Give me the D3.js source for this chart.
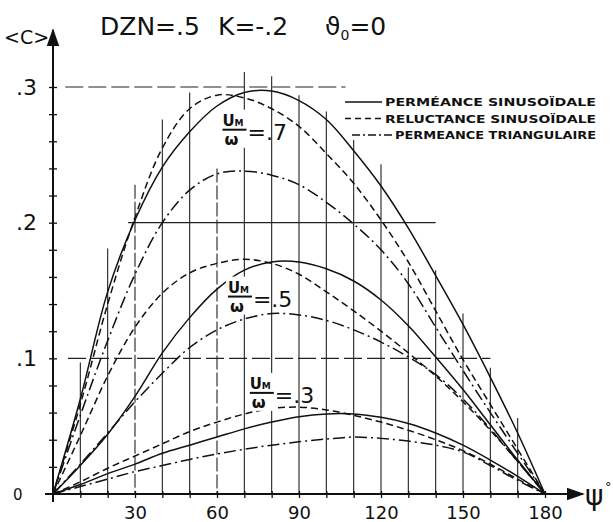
<!DOCTYPE html>
<html><head><meta charset="utf-8">
<script src="https://cdn.jsdelivr.net/npm/d3@7"></script>
<style>
html,body{margin:0;padding:0;background:#fff;}
svg{display:block;}
text{font-family:"DejaVu Sans",sans-serif;fill:#111;}
</style></head>
<body>
<svg id="chart" width="613" height="522"></svg>
<script>
// ---- data ----
const psi = [0,10,20,30,40,50,60,70,80,90,100,110,120,130,140,150,160,170,180];
const permSin07 = [0,0.070,0.149,0.202,0.241,0.267,0.286,0.296,0.297,0.290,0.276,0.253,0.227,0.196,0.161,0.125,0.086,0.045,0];
const relSin07  = [0,0.066,0.140,0.204,0.255,0.284,0.294,0.292,0.284,0.271,0.251,0.229,0.202,0.171,0.135,0.099,0.066,0.033,0];
const permTri07 = [0,0.058,0.113,0.162,0.200,0.224,0.236,0.238,0.235,0.228,0.215,0.199,0.180,0.155,0.123,0.091,0.060,0.030,0];
const permSin05 = [0,0.021,0.044,0.072,0.104,0.130,0.151,0.165,0.171,0.171,0.166,0.157,0.143,0.124,0.101,0.077,0.051,0.025,0];
const relSin05  = [0,0.043,0.087,0.123,0.148,0.163,0.170,0.173,0.170,0.162,0.149,0.135,0.120,0.104,0.087,0.068,0.047,0.024,0];
const permTri05 = [0,0.022,0.045,0.068,0.089,0.108,0.121,0.129,0.133,0.132,0.128,0.121,0.112,0.101,0.088,0.070,0.048,0.024,0];
const permSin03 = [0,0.007,0.015,0.022,0.030,0.036,0.042,0.048,0.053,0.057,0.059,0.059,0.0565,0.052,0.045,0.036,0.025,0.013,0];
const relSin03  = [0,0.009,0.019,0.028,0.037,0.046,0.053,0.059,0.063,0.064,0.062,0.058,0.053,0.047,0.040,0.032,0.022,0.011,0];
const permTri03 = [0,0.0055,0.011,0.0165,0.021,0.0255,0.0295,0.033,0.036,0.0385,0.0405,0.042,0.041,0.039,0.036,0.031,0.021,0.010,0];

const xTickLabels = [30,60,90,120,150,180];
const xMinor = [10,20,30,40,50,60,70,80,90,100,110,120,130,140,150,160,170,180];
const yTickLabels = [0.1,0.2,0.3];
const yMinor = [0.02,0.04,0.06,0.08,0.1,0.12,0.14,0.16,0.18,0.2,0.22,0.24,0.26,0.28,0.3];
// vertical hand-drawn grid lines: angle and top value
const vGridPsi = [10,20,30,40,50,60,70,80,90,100,110,120,130,140,150,160,170];
const vGridTop = [0.097,0.181,0.228,0.276,0.296,0.240,0.311,0.308,0.294,0.282,0.261,0.243,0.167,0.165,0.133,0.093,0.056];
// horizontal grid lines: value, start angle, end angle
const hGridVal = [0.1,0.2,0.3];
const hGridFrom = [5.5,27.5,4.5];
const hGridTo = [160,140,107];

const legendLabels = ["PERMÉANCE SINUSOÏDALE","RELUCTANCE SINUSOÏDALE","PERMEANCE TRIANGULAIRE"];
const styles = ["none","7,4","12,4,2,4"];

const series = [
  {v:permSin07, s:0},{v:relSin07, s:1},{v:permTri07, s:2},
  {v:permSin05, s:0},{v:relSin05, s:1},{v:permTri05, s:2},
  {v:permSin03, s:0},{v:relSin03, s:1},{v:permTri03, s:2}
];
const ratioLabels = [{r:".7", at:[62,0.27]},{r:".5", at:[64,0.147]},{r:".3", at:[72,0.076]}];

// ---- drawing ----
const svg = d3.select("#chart");
const x = d3.scaleLinear().domain([0,180]).range([53,545]);
const y = d3.scaleLinear().domain([0,0.3]).range([494,87]);

// vertical grid
svg.append("g").selectAll("line").data(vGridPsi).join("line")
  .attr("x1",d=>x(d)).attr("x2",d=>x(d))
  .attr("y1",(d,i)=>y(vGridTop[i])).attr("y2",y(0))
  .attr("stroke","#222").attr("stroke-width",1.1)
  .attr("stroke-dasharray",d=>(d===30||d===60)?"14,3":null);

// horizontal grid
svg.append("g").selectAll("line").data(hGridVal).join("line")
  .attr("x1",(d,i)=>x(hGridFrom[i])).attr("x2",(d,i)=>x(hGridTo[i]))
  .attr("y1",d=>y(d)).attr("y2",d=>y(d))
  .attr("stroke","#222").attr("stroke-width",1.1)
  .attr("stroke-dasharray",d=>d===0.2?null:"18,5");

// curves
const line = d3.line().x((d,i)=>x(psi[i])).y(d=>y(d)).curve(d3.curveCatmullRom.alpha(0.5));
svg.append("g").selectAll("path").data(series).join("path")
  .attr("d",d=>line(d.v)).attr("fill","none").attr("stroke","#111")
  .attr("stroke-width",1.5)
  .attr("stroke-dasharray",d=>styles[d.s]==="none"?null:styles[d.s]);

// x axis
const xAxis = d3.axisBottom(x).tickValues(xMinor)
  .tickFormat(d=>xTickLabels.includes(d)?String(d):"").tickSize(4).tickPadding(8);
const gx = svg.append("g").attr("transform",`translate(0,${y(0)})`).call(xAxis);
gx.select(".domain").remove();
gx.selectAll(".tick line").attr("y1",-3).attr("stroke","#111").attr("stroke-width",1.3);
gx.selectAll(".tick text").attr("font-size",18).attr("font-family","DejaVu Sans").attr("fill","#111");

// y axis
const yAxis = d3.axisLeft(y).tickValues(yMinor)
  .tickFormat(d=>{const k=yTickLabels.find(t=>Math.abs(t-d)<1e-9);return k?"."+Math.round(k*10):"";})
  .tickSize(4).tickPadding(12);
const gy = svg.append("g").attr("transform",`translate(${x(0)},0)`).call(yAxis);
gy.select(".domain").remove();
gy.selectAll(".tick line").attr("x1",4).attr("stroke","#111").attr("stroke-width",1.3);
gy.selectAll(".tick text").attr("font-size",22).attr("font-family","DejaVu Sans").attr("fill","#111");

// axis lines with arrows
svg.append("defs").append("marker").attr("id","arr").attr("viewBox","0 0 10 10")
  .attr("refX",9).attr("refY",5).attr("markerWidth",9).attr("markerHeight",9)
  .attr("orient","auto").append("path").attr("d","M0,1.5 L10,5 L0,8.5 Z").attr("fill","#111");
svg.append("line").attr("x1",x(0)-8).attr("x2",x(180)+38).attr("y1",y(0)).attr("y2",y(0))
  .attr("stroke","#111").attr("stroke-width",2).attr("marker-end","url(#arr)");
svg.append("line").attr("x1",x(0)).attr("x2",x(0)).attr("y1",y(0)+8).attr("y2",y(0.342))
  .attr("stroke","#111").attr("stroke-width",2).attr("marker-end","url(#arr)");

svg.append("text").attr("x",x(0)-40).attr("y",y(0)+6).attr("font-size",15).text("0");
svg.append("text").attr("x",4).attr("y",44).attr("font-size",19).text("<C>");
svg.append("text").attr("x",585).attr("y",505).attr("font-size",28).text("ψ");
svg.append("text").attr("x",605).attr("y",491).attr("font-size",13).text("°");

// title
svg.append("text").attr("x",100).attr("y",35).attr("font-size",25).text("DZN=.5");
svg.append("text").attr("x",218).attr("y",35).attr("font-size",25).text("K=-.2");
const th = svg.append("text").attr("x",325).attr("y",35).attr("font-size",25);
th.append("tspan").text("ϑ");
th.append("tspan").attr("font-size",14).attr("dy",5).text("0");
th.append("tspan").attr("dy",-5).text("=0");

// legend
const lg = svg.append("g");
legendLabels.forEach((t,i)=>{
  const ly = 102 + i*16.5;
  const lx0 = i===2?352:345, lx1 = i===2?392:382;
  lg.append("line").attr("x1",lx0).attr("x2",lx1).attr("y1",ly).attr("y2",ly)
    .attr("stroke","#111").attr("stroke-width",1.5)
    .attr("stroke-dasharray",styles[i]==="none"?null:(i===1?"6,4":"8,3,2,3"));
  lg.append("text").attr("x",lx1+3).attr("y",ly+4).attr("font-size",11).attr("font-weight","bold")
    .attr("textLength",596-(lx1+3)).attr("lengthAdjust","spacingAndGlyphs").text(t);
});

// ratio labels
ratioLabels.forEach(l=>{
  const gx0 = x(l.at[0]), gy0 = y(l.at[1]);
  const g = svg.append("g").attr("transform",`translate(${gx0},${gy0})`);
  g.append("rect").attr("x",-2).attr("y",-18).attr("width",28).attr("height",38).attr("fill","#fff");
  g.append("text").attr("x",0).attr("y",-2).attr("font-size",15).attr("font-weight","bold").text("U");
  g.append("text").attr("x",12).attr("y",-2).attr("font-size",9).attr("font-weight","bold").text("M");
  g.append("line").attr("x1",0).attr("x2",24).attr("y1",2).attr("y2",2).attr("stroke","#111").attr("stroke-width",2);
  g.append("text").attr("x",2).attr("y",17).attr("font-size",16).attr("font-weight","bold").text("ω");
  g.append("text").attr("x",25).attr("y",12).attr("font-size",22).text("="+l.r);
});
</script>
</body></html>
